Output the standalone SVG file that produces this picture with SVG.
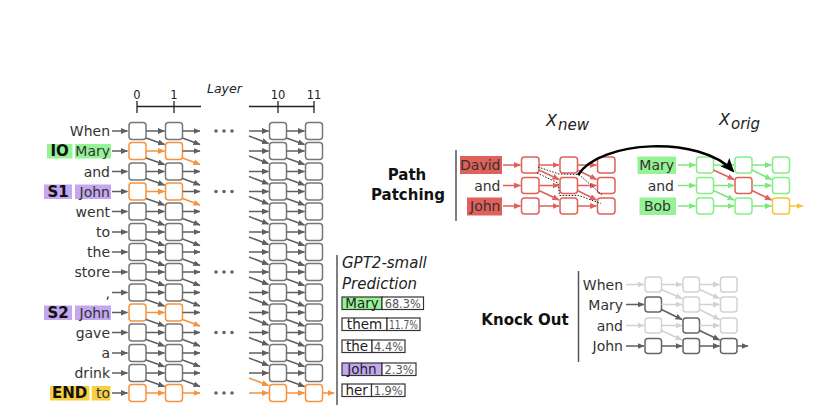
<svg xmlns="http://www.w3.org/2000/svg" width="833" height="417" viewBox="0 0 833 417">
<style>
text{font-family:"DejaVu Sans","Liberation Sans",sans-serif}
.tk{font-size:14px;fill:#333;text-anchor:end}
.tag{font-size:15px;font-weight:bold;fill:#111;text-anchor:middle}
.ax{font-size:11.5px;fill:#222;text-anchor:middle}
.bx{fill:#fff;stroke:#777;stroke-width:1.5}
.bo{fill:#fff;stroke:#f5923e;stroke-width:1.5}
.bR{fill:#fff;stroke:#e0605a;stroke-width:1.5}
.bG{fill:#fff;stroke:#86ee86;stroke-width:1.5}
.bY{fill:#fff;stroke:#f7c33d;stroke-width:1.5}
.bL{fill:#fff;stroke:#d2d2d2;stroke-width:1.5}
.bD{fill:#fff;stroke:#666;stroke-width:1.5}
.g{stroke:#5f5f5f;stroke-width:1.5;marker-end:url(#mg)}
.o{stroke:#f5923e;stroke-width:1.5;marker-end:url(#mo)}
.r{stroke:#e0605a;stroke-width:1.5;marker-end:url(#mr)}
.gr{stroke:#7ce87c;stroke-width:1.5;marker-end:url(#mgr)}
.y{stroke:#f7c33d;stroke-width:1.5;marker-end:url(#my)}
.l{stroke:#d2d2d2;stroke-width:1.5;marker-end:url(#ml)}
.hG{fill:#95f395}
.hP{fill:#c4a7f0}
.hY{fill:#f6d043}
.hR{fill:#e0605a}
.pb{stroke:#333;stroke-width:1.2}
.pw{font-size:13.5px;fill:#222;text-anchor:middle}
.pp{font-size:11.5px;fill:#555;text-anchor:middle}
.hd{font-size:15px;font-weight:bold;fill:#111;text-anchor:middle}
.it{font-style:italic;fill:#222}
.vl{stroke:#555;stroke-width:1.5}
</style>
<defs>
<marker id="mg" viewBox="0 0 7 6" refX="6.5" refY="3" markerWidth="7" markerHeight="6" markerUnits="userSpaceOnUse" orient="auto"><path d="M0,0L7,3L0,6z" fill="#5f5f5f"/></marker>
<marker id="mo" viewBox="0 0 7 6" refX="6.5" refY="3" markerWidth="7" markerHeight="6" markerUnits="userSpaceOnUse" orient="auto"><path d="M0,0L7,3L0,6z" fill="#f5923e"/></marker>
<marker id="mr" viewBox="0 0 7 6" refX="6.5" refY="3" markerWidth="7" markerHeight="6" markerUnits="userSpaceOnUse" orient="auto"><path d="M0,0L7,3L0,6z" fill="#e0605a"/></marker>
<marker id="mgr" viewBox="0 0 7 6" refX="6.5" refY="3" markerWidth="7" markerHeight="6" markerUnits="userSpaceOnUse" orient="auto"><path d="M0,0L7,3L0,6z" fill="#7ce87c"/></marker>
<marker id="my" viewBox="0 0 7 6" refX="6.5" refY="3" markerWidth="7" markerHeight="6" markerUnits="userSpaceOnUse" orient="auto"><path d="M0,0L7,3L0,6z" fill="#f7c33d"/></marker>
<marker id="ml" viewBox="0 0 7 6" refX="6.5" refY="3" markerWidth="7" markerHeight="6" markerUnits="userSpaceOnUse" orient="auto"><path d="M0,0L7,3L0,6z" fill="#d2d2d2"/></marker>
<marker id="mk" viewBox="0 0 14 12" refX="12" refY="6" markerWidth="14" markerHeight="12" markerUnits="userSpaceOnUse" orient="auto"><path d="M0,0L14,6L0,12L3,6z" fill="#000"/></marker>
</defs>

<!-- axis -->
<g id="axis">
<text class="ax" x="137" y="98.5">0</text>
<text class="ax" x="174" y="98.5">1</text>
<text class="ax" x="278" y="98.5">10</text>
<text class="ax" x="314" y="98.5">11</text>
<text class="it" x="207" y="93" font-size="12.5">Layer</text>
<g stroke="#222" stroke-width="1.3">
<line x1="137" y1="106.5" x2="201" y2="106.5"/>
<line x1="249" y1="106.5" x2="314" y2="106.5"/>
<line x1="137" y1="101" x2="137" y2="113"/>
<line x1="174" y1="101" x2="174" y2="113"/>
<line x1="278" y1="101" x2="278" y2="113"/>
<line x1="314" y1="101" x2="314" y2="113"/>
</g>
</g>

<!-- main grid rows -->
<g id="row0" transform="translate(0,131)"><text class="tk" x="110" y="5">When</text><rect class="bx" x="129" y="-8.5" width="17" height="17" rx="3"/><rect class="bx" x="165.5" y="-8.5" width="17" height="17" rx="3"/><rect class="bx" x="269.5" y="-8.5" width="17" height="17" rx="3"/><rect class="bx" x="305.5" y="-8.5" width="17" height="17" rx="3"/></g>
<g id="row1" transform="translate(0,151)"><rect class="hG" x="47" y="-7" width="25.5" height="14.5"/><text class="tag" x="59.7" y="5.3">IO</text><rect class="hG" x="75" y="-7" width="36" height="14.5"/><text class="tk" x="110" y="5">Mary</text><rect class="bo" x="129" y="-8.5" width="17" height="17" rx="3"/><rect class="bo" x="165.5" y="-8.5" width="17" height="17" rx="3"/><rect class="bx" x="269.5" y="-8.5" width="17" height="17" rx="3"/><rect class="bx" x="305.5" y="-8.5" width="17" height="17" rx="3"/></g>
<g id="row2" transform="translate(0,171.5)"><text class="tk" x="110" y="5">and</text><rect class="bx" x="129" y="-8.5" width="17" height="17" rx="3"/><rect class="bx" x="165.5" y="-8.5" width="17" height="17" rx="3"/><rect class="bx" x="269.5" y="-8.5" width="17" height="17" rx="3"/><rect class="bx" x="305.5" y="-8.5" width="17" height="17" rx="3"/></g>
<g id="row3" transform="translate(0,191.5)"><rect class="hP" x="44" y="-7" width="28" height="14.5"/><text class="tag" x="58" y="5.3">S1</text><rect class="hP" x="75" y="-7" width="36" height="14.5"/><text class="tk" x="110" y="5">John</text><rect class="bo" x="129" y="-8.5" width="17" height="17" rx="3"/><rect class="bo" x="165.5" y="-8.5" width="17" height="17" rx="3"/><rect class="bx" x="269.5" y="-8.5" width="17" height="17" rx="3"/><rect class="bx" x="305.5" y="-8.5" width="17" height="17" rx="3"/></g>
<g id="row4" transform="translate(0,211.5)"><text class="tk" x="110" y="5">went</text><rect class="bx" x="129" y="-8.5" width="17" height="17" rx="3"/><rect class="bx" x="165.5" y="-8.5" width="17" height="17" rx="3"/><rect class="bx" x="269.5" y="-8.5" width="17" height="17" rx="3"/><rect class="bx" x="305.5" y="-8.5" width="17" height="17" rx="3"/></g>
<g id="row5" transform="translate(0,232)"><text class="tk" x="110" y="5">to</text><rect class="bx" x="129" y="-8.5" width="17" height="17" rx="3"/><rect class="bx" x="165.5" y="-8.5" width="17" height="17" rx="3"/><rect class="bx" x="269.5" y="-8.5" width="17" height="17" rx="3"/><rect class="bx" x="305.5" y="-8.5" width="17" height="17" rx="3"/></g>
<g id="row6" transform="translate(0,252)"><text class="tk" x="110" y="5">the</text><rect class="bx" x="129" y="-8.5" width="17" height="17" rx="3"/><rect class="bx" x="165.5" y="-8.5" width="17" height="17" rx="3"/><rect class="bx" x="269.5" y="-8.5" width="17" height="17" rx="3"/><rect class="bx" x="305.5" y="-8.5" width="17" height="17" rx="3"/></g>
<g id="row7" transform="translate(0,272)"><text class="tk" x="110" y="5">store</text><rect class="bx" x="129" y="-8.5" width="17" height="17" rx="3"/><rect class="bx" x="165.5" y="-8.5" width="17" height="17" rx="3"/><rect class="bx" x="269.5" y="-8.5" width="17" height="17" rx="3"/><rect class="bx" x="305.5" y="-8.5" width="17" height="17" rx="3"/></g>
<g id="row8" transform="translate(0,292.5)"><text class="tk" x="110" y="5">,</text><rect class="bx" x="129" y="-8.5" width="17" height="17" rx="3"/><rect class="bx" x="165.5" y="-8.5" width="17" height="17" rx="3"/><rect class="bx" x="269.5" y="-8.5" width="17" height="17" rx="3"/><rect class="bx" x="305.5" y="-8.5" width="17" height="17" rx="3"/></g>
<g id="row9" transform="translate(0,312.5)"><rect class="hP" x="44" y="-7" width="28" height="14.5"/><text class="tag" x="58" y="5.3">S2</text><rect class="hP" x="75" y="-7" width="36" height="14.5"/><text class="tk" x="110" y="5">John</text><rect class="bo" x="129" y="-8.5" width="17" height="17" rx="3"/><rect class="bo" x="165.5" y="-8.5" width="17" height="17" rx="3"/><rect class="bx" x="269.5" y="-8.5" width="17" height="17" rx="3"/><rect class="bx" x="305.5" y="-8.5" width="17" height="17" rx="3"/></g>
<g id="row10" transform="translate(0,332.5)"><text class="tk" x="110" y="5">gave</text><rect class="bx" x="129" y="-8.5" width="17" height="17" rx="3"/><rect class="bx" x="165.5" y="-8.5" width="17" height="17" rx="3"/><rect class="bx" x="269.5" y="-8.5" width="17" height="17" rx="3"/><rect class="bx" x="305.5" y="-8.5" width="17" height="17" rx="3"/></g>
<g id="row11" transform="translate(0,353)"><text class="tk" x="110" y="5">a</text><rect class="bx" x="129" y="-8.5" width="17" height="17" rx="3"/><rect class="bx" x="165.5" y="-8.5" width="17" height="17" rx="3"/><rect class="bx" x="269.5" y="-8.5" width="17" height="17" rx="3"/><rect class="bx" x="305.5" y="-8.5" width="17" height="17" rx="3"/></g>
<g id="row12" transform="translate(0,373)"><text class="tk" x="110" y="5">drink</text><rect class="bx" x="129" y="-8.5" width="17" height="17" rx="3"/><rect class="bx" x="165.5" y="-8.5" width="17" height="17" rx="3"/><rect class="bx" x="269.5" y="-8.5" width="17" height="17" rx="3"/><rect class="bx" x="305.5" y="-8.5" width="17" height="17" rx="3"/></g>
<g id="row13" transform="translate(0,393)"><rect class="hY" x="50" y="-7" width="39.5" height="14.5"/><text class="tag" x="69.7" y="5.3">END</text><rect class="hY" x="91.7" y="-7" width="18.8" height="14.5"/><text class="tk" x="110" y="5">to</text><rect class="bo" x="129" y="-8.5" width="17" height="17" rx="3"/><rect class="bo" x="165.5" y="-8.5" width="17" height="17" rx="3"/><rect class="bo" x="269.5" y="-8.5" width="17" height="17" rx="3"/><rect class="bo" x="305.5" y="-8.5" width="17" height="17" rx="3"/></g>

<g id="ellipses" fill="#666">
<circle cx="216" cy="131" r="1.8"/><circle cx="224" cy="131" r="1.8"/><circle cx="232" cy="131" r="1.8"/>
<circle cx="216" cy="191.5" r="1.8"/><circle cx="224" cy="191.5" r="1.8"/><circle cx="232" cy="191.5" r="1.8"/>
<circle cx="216" cy="272" r="1.8"/><circle cx="224" cy="272" r="1.8"/><circle cx="232" cy="272" r="1.8"/>
<circle cx="216" cy="332.5" r="1.8"/><circle cx="224" cy="332.5" r="1.8"/><circle cx="232" cy="332.5" r="1.8"/>
<circle cx="216" cy="393" r="1.8"/><circle cx="224" cy="393" r="1.8"/><circle cx="232" cy="393" r="1.8"/>
</g>

<!-- main grid connectors -->
<g id="connectors-main">
<g transform="translate(0,131)"><line class="g" x1="112" y1="0" x2="127.5" y2="0"/><line class="g" x1="146" y1="0" x2="164.5" y2="0"/><line class="g" x1="182.5" y1="0" x2="200" y2="0"/><line class="g" x1="249" y1="0" x2="268.5" y2="0"/><line class="g" x1="286.5" y1="0" x2="304.5" y2="0"/><line class="g" x1="146" y1="7" x2="164.5" y2="13.5"/><line class="g" x1="182.5" y1="7" x2="200" y2="13.5"/><line class="g" x1="249" y1="5" x2="268.5" y2="12.5"/><line class="g" x1="286.5" y1="7" x2="304.5" y2="13.5"/></g>
<g transform="translate(0,151)"><line class="g" x1="112" y1="0" x2="127.5" y2="0"/><line class="o" x1="146" y1="0" x2="164.5" y2="0"/><line class="g" x1="182.5" y1="0" x2="200" y2="0"/><line class="g" x1="249" y1="0" x2="268.5" y2="0"/><line class="g" x1="286.5" y1="0" x2="304.5" y2="0"/><line class="g" x1="146" y1="7" x2="164.5" y2="13.5"/><line class="o" x1="182.5" y1="7" x2="200" y2="13.5"/><line class="g" x1="249" y1="5" x2="268.5" y2="12.5"/><line class="g" x1="286.5" y1="7" x2="304.5" y2="13.5"/></g>
<g transform="translate(0,171.5)"><line class="g" x1="112" y1="0" x2="127.5" y2="0"/><line class="g" x1="146" y1="0" x2="164.5" y2="0"/><line class="g" x1="182.5" y1="0" x2="200" y2="0"/><line class="g" x1="249" y1="0" x2="268.5" y2="0"/><line class="g" x1="286.5" y1="0" x2="304.5" y2="0"/><line class="g" x1="146" y1="7" x2="164.5" y2="13.5"/><line class="g" x1="182.5" y1="7" x2="200" y2="13.5"/><line class="g" x1="249" y1="5" x2="268.5" y2="12.5"/><line class="g" x1="286.5" y1="7" x2="304.5" y2="13.5"/></g>
<g transform="translate(0,191.5)"><line class="g" x1="112" y1="0" x2="127.5" y2="0"/><line class="o" x1="146" y1="0" x2="164.5" y2="0"/><line class="g" x1="182.5" y1="0" x2="200" y2="0"/><line class="g" x1="249" y1="0" x2="268.5" y2="0"/><line class="g" x1="286.5" y1="0" x2="304.5" y2="0"/><line class="g" x1="146" y1="7" x2="164.5" y2="13.5"/><line class="o" x1="182.5" y1="7" x2="200" y2="13.5"/><line class="g" x1="249" y1="5" x2="268.5" y2="12.5"/><line class="g" x1="286.5" y1="7" x2="304.5" y2="13.5"/></g>
<g transform="translate(0,211.5)"><line class="g" x1="112" y1="0" x2="127.5" y2="0"/><line class="g" x1="146" y1="0" x2="164.5" y2="0"/><line class="g" x1="182.5" y1="0" x2="200" y2="0"/><line class="g" x1="249" y1="0" x2="268.5" y2="0"/><line class="g" x1="286.5" y1="0" x2="304.5" y2="0"/><line class="g" x1="146" y1="7" x2="164.5" y2="13.5"/><line class="g" x1="182.5" y1="7" x2="200" y2="13.5"/><line class="g" x1="249" y1="5" x2="268.5" y2="12.5"/><line class="g" x1="286.5" y1="7" x2="304.5" y2="13.5"/></g>
<g transform="translate(0,232)"><line class="g" x1="112" y1="0" x2="127.5" y2="0"/><line class="g" x1="146" y1="0" x2="164.5" y2="0"/><line class="g" x1="182.5" y1="0" x2="200" y2="0"/><line class="g" x1="249" y1="0" x2="268.5" y2="0"/><line class="g" x1="286.5" y1="0" x2="304.5" y2="0"/><line class="g" x1="146" y1="7" x2="164.5" y2="13.5"/><line class="g" x1="182.5" y1="7" x2="200" y2="13.5"/><line class="g" x1="249" y1="5" x2="268.5" y2="12.5"/><line class="g" x1="286.5" y1="7" x2="304.5" y2="13.5"/></g>
<g transform="translate(0,252)"><line class="g" x1="112" y1="0" x2="127.5" y2="0"/><line class="g" x1="146" y1="0" x2="164.5" y2="0"/><line class="g" x1="182.5" y1="0" x2="200" y2="0"/><line class="g" x1="249" y1="0" x2="268.5" y2="0"/><line class="g" x1="286.5" y1="0" x2="304.5" y2="0"/><line class="g" x1="146" y1="7" x2="164.5" y2="13.5"/><line class="g" x1="182.5" y1="7" x2="200" y2="13.5"/><line class="g" x1="249" y1="5" x2="268.5" y2="12.5"/><line class="g" x1="286.5" y1="7" x2="304.5" y2="13.5"/></g>
<g transform="translate(0,272)"><line class="g" x1="112" y1="0" x2="127.5" y2="0"/><line class="g" x1="146" y1="0" x2="164.5" y2="0"/><line class="g" x1="182.5" y1="0" x2="200" y2="0"/><line class="g" x1="249" y1="0" x2="268.5" y2="0"/><line class="g" x1="286.5" y1="0" x2="304.5" y2="0"/><line class="g" x1="146" y1="7" x2="164.5" y2="13.5"/><line class="g" x1="182.5" y1="7" x2="200" y2="13.5"/><line class="g" x1="249" y1="5" x2="268.5" y2="12.5"/><line class="g" x1="286.5" y1="7" x2="304.5" y2="13.5"/></g>
<g transform="translate(0,292.5)"><line class="g" x1="112" y1="0" x2="127.5" y2="0"/><line class="g" x1="146" y1="0" x2="164.5" y2="0"/><line class="g" x1="182.5" y1="0" x2="200" y2="0"/><line class="g" x1="249" y1="0" x2="268.5" y2="0"/><line class="g" x1="286.5" y1="0" x2="304.5" y2="0"/><line class="g" x1="146" y1="7" x2="164.5" y2="13.5"/><line class="g" x1="182.5" y1="7" x2="200" y2="13.5"/><line class="g" x1="249" y1="5" x2="268.5" y2="12.5"/><line class="g" x1="286.5" y1="7" x2="304.5" y2="13.5"/></g>
<g transform="translate(0,312.5)"><line class="g" x1="112" y1="0" x2="127.5" y2="0"/><line class="o" x1="146" y1="0" x2="164.5" y2="0"/><line class="g" x1="182.5" y1="0" x2="200" y2="0"/><line class="g" x1="249" y1="0" x2="268.5" y2="0"/><line class="g" x1="286.5" y1="0" x2="304.5" y2="0"/><line class="g" x1="146" y1="7" x2="164.5" y2="13.5"/><line class="o" x1="182.5" y1="7" x2="200" y2="13.5"/><line class="g" x1="249" y1="5" x2="268.5" y2="12.5"/><line class="g" x1="286.5" y1="7" x2="304.5" y2="13.5"/></g>
<g transform="translate(0,332.5)"><line class="g" x1="112" y1="0" x2="127.5" y2="0"/><line class="g" x1="146" y1="0" x2="164.5" y2="0"/><line class="g" x1="182.5" y1="0" x2="200" y2="0"/><line class="g" x1="249" y1="0" x2="268.5" y2="0"/><line class="g" x1="286.5" y1="0" x2="304.5" y2="0"/><line class="g" x1="146" y1="7" x2="164.5" y2="13.5"/><line class="g" x1="182.5" y1="7" x2="200" y2="13.5"/><line class="g" x1="249" y1="5" x2="268.5" y2="12.5"/><line class="g" x1="286.5" y1="7" x2="304.5" y2="13.5"/></g>
<g transform="translate(0,353)"><line class="g" x1="112" y1="0" x2="127.5" y2="0"/><line class="g" x1="146" y1="0" x2="164.5" y2="0"/><line class="g" x1="182.5" y1="0" x2="200" y2="0"/><line class="g" x1="249" y1="0" x2="268.5" y2="0"/><line class="g" x1="286.5" y1="0" x2="304.5" y2="0"/><line class="g" x1="146" y1="7" x2="164.5" y2="13.5"/><line class="g" x1="182.5" y1="7" x2="200" y2="13.5"/><line class="g" x1="249" y1="5" x2="268.5" y2="12.5"/><line class="g" x1="286.5" y1="7" x2="304.5" y2="13.5"/></g>
<g transform="translate(0,373)"><line class="g" x1="112" y1="0" x2="127.5" y2="0"/><line class="g" x1="146" y1="0" x2="164.5" y2="0"/><line class="g" x1="182.5" y1="0" x2="200" y2="0"/><line class="g" x1="249" y1="0" x2="268.5" y2="0"/><line class="g" x1="286.5" y1="0" x2="304.5" y2="0"/><line class="g" x1="146" y1="7" x2="164.5" y2="13.5"/><line class="g" x1="182.5" y1="7" x2="200" y2="13.5"/><line class="o" x1="249" y1="5" x2="268.5" y2="12.5"/><line class="g" x1="286.5" y1="7" x2="304.5" y2="13.5"/></g>
<g transform="translate(0,393)"><line class="g" x1="112" y1="0" x2="127.5" y2="0"/><line class="o" x1="146" y1="0" x2="164.5" y2="0"/><line class="o" x1="182.5" y1="0" x2="200" y2="0"/><line class="o" x1="249" y1="0" x2="268.5" y2="0"/><line class="o" x1="286.5" y1="0" x2="304.5" y2="0"/><line class="o" x1="322.5" y1="0" x2="334" y2="0"/></g>
</g>

<!-- prediction panel -->
<g id="prediction">
<line class="vl" x1="337" y1="255" x2="337" y2="405"/>
<text class="it" x="342" y="268" font-size="15">GPT2-small</text>
<text class="it" x="342" y="289" font-size="15">Prediction</text>
<rect class="pb hG" x="342" y="297" width="40" height="12.5"/><text class="pw" x="362" y="307.8">Mary</text>
<rect class="pb" fill="#fff" x="382" y="297" width="41.5" height="12.5"/><text class="pp" x="402.7" y="307.5" textLength="36" lengthAdjust="spacingAndGlyphs">68.3%</text>
<rect class="pb" fill="#fff" x="342" y="318" width="45" height="12.5"/><text class="pw" x="364.5" y="328.8">them</text>
<rect class="pb" fill="#fff" x="387" y="318" width="33" height="12.5"/><text class="pp" x="403.5" y="328.5" textLength="29" lengthAdjust="spacingAndGlyphs">11.7%</text>
<rect class="pb" fill="#fff" x="342" y="340" width="30" height="12.5"/><text class="pw" x="357" y="350.8">the</text>
<rect class="pb" fill="#fff" x="372" y="340" width="33" height="12.5"/><text class="pp" x="388.5" y="350.5" textLength="29" lengthAdjust="spacingAndGlyphs">4.4%</text>
<rect class="pb hP" x="342" y="363" width="40" height="12.5"/><text class="pw" x="362" y="373.8">John</text>
<rect class="pb" fill="#fff" x="382" y="363" width="34" height="12.5"/><text class="pp" x="399" y="373.5" textLength="29" lengthAdjust="spacingAndGlyphs">2.3%</text>
<rect class="pb" fill="#fff" x="342" y="384" width="29.5" height="12.5"/><text class="pw" x="356.7" y="394.8">her</text>
<rect class="pb" fill="#fff" x="371.5" y="384" width="33.5" height="12.5"/><text class="pp" x="388.2" y="394.5" textLength="29" lengthAdjust="spacingAndGlyphs">1.9%</text>
</g>

<!-- path patching -->
<g id="path-patching-label">
<text class="hd" x="407" y="180">Path</text>
<text class="hd" x="408" y="200">Patching</text>
<line class="vl" x1="456" y1="150" x2="456" y2="221"/>
</g>
<g id="xnew-label"><text class="it" x="546" y="126" font-size="16">X</text><text class="it" x="558" y="130" font-size="15">new</text></g>
<g id="xorig-label"><text class="it" x="719" y="125" font-size="16">X</text><text class="it" x="731" y="128.5" font-size="15">orig</text></g>

<g id="new-David"><rect class="hR" x="460" y="156" width="42" height="18"/><text class="tk" x="500.5" y="170">David</text></g>
<g id="new-and"><text class="tk" x="500.5" y="190.5">and</text></g>
<g id="new-John"><rect class="hR" x="467" y="197.5" width="35" height="18"/><text class="tk" x="500.5" y="211">John</text></g>
<g id="new-grid">
<rect class="bR" x="521.5" y="157" width="17.5" height="16" rx="3"/><rect class="bR" x="560" y="157" width="17.5" height="16" rx="3"/><rect class="bR" x="597.5" y="157" width="17.5" height="16" rx="3"/>
<rect class="bR" x="521.5" y="177.5" width="17.5" height="16" rx="3"/><rect class="bR" x="560" y="177.5" width="17.5" height="16" rx="3"/><rect class="bR" x="597.5" y="177.5" width="17.5" height="16" rx="3"/>
<rect class="bR" x="521.5" y="198" width="17.5" height="16" rx="3"/><rect class="bR" x="560" y="198" width="17.5" height="16" rx="3"/><rect class="bR" x="597.5" y="198" width="17.5" height="16" rx="3"/>
</g>

<g id="orig-Mary"><rect class="hG" x="637.5" y="156.5" width="38.5" height="17.5"/><text class="tk" x="674" y="170">Mary</text></g>
<g id="orig-and"><text class="tk" x="674" y="190.5">and</text></g>
<g id="orig-Bob"><rect class="hG" x="639.5" y="197.5" width="36.5" height="17.5"/><text class="tk" x="671" y="211">Bob</text></g>
<g id="orig-grid">
<rect class="bG" x="696.5" y="157" width="17" height="16" rx="3"/><rect class="bG" x="735" y="157" width="17" height="16" rx="3"/><rect class="bG" x="772.5" y="157" width="17" height="16" rx="3"/>
<rect class="bG" x="696.5" y="177.5" width="17" height="16" rx="3"/><rect class="bR" x="735" y="177.5" width="17" height="16" rx="3"/><rect class="bG" x="772.5" y="177.5" width="17" height="16" rx="3"/>
<rect class="bG" x="696.5" y="198" width="17" height="16" rx="3"/><rect class="bG" x="735" y="198" width="17" height="16" rx="3"/><rect class="bY" x="772.5" y="198" width="17" height="16" rx="3"/>
</g>

<g id="connectors-patching">
<line class="r" x1="503" y1="165" x2="520.5" y2="165"/><line class="r" x1="503" y1="185.5" x2="520.5" y2="185.5"/><line class="r" x1="503" y1="206" x2="520.5" y2="206"/>
<line class="r" x1="539" y1="165" x2="559" y2="165"/><line class="r" x1="577.5" y1="165" x2="596.5" y2="165"/>
<line class="r" x1="539" y1="185.5" x2="559" y2="185.5"/><line class="r" x1="577.5" y1="185.5" x2="596.5" y2="185.5"/>
<line class="r" x1="539" y1="206" x2="559" y2="206"/><line class="r" x1="577.5" y1="206" x2="596.5" y2="206"/>
<line class="r" x1="539" y1="170" x2="559" y2="179.5"/><line class="r" x1="577.5" y1="170" x2="596.5" y2="179.5"/>
<line class="r" x1="539" y1="190.5" x2="559" y2="200"/><line class="r" x1="577.5" y1="190.5" x2="596.5" y2="200"/>
<g fill="none" stroke="#222" stroke-width="1" stroke-dasharray="1.5 1.5">
<polyline points="538,167 559,174 579,174.5 602,195"/>
<polyline points="537,173 558,183 559.5,195.5 578.5,195.5 601,203.5"/>
</g>
<line class="gr" x1="678" y1="165" x2="695.5" y2="165"/><line class="gr" x1="678" y1="185.5" x2="695.5" y2="185.5"/><line class="gr" x1="678" y1="206" x2="695.5" y2="206"/>
<line class="gr" x1="713.5" y1="165" x2="734" y2="165"/><line class="gr" x1="752" y1="165" x2="771.5" y2="165"/>
<line class="gr" x1="713.5" y1="185.5" x2="734" y2="185.5"/><line class="gr" x1="752" y1="185.5" x2="771.5" y2="185.5"/>
<line class="gr" x1="713.5" y1="206" x2="734" y2="206"/><line class="gr" x1="752" y1="206" x2="771.5" y2="206"/>
<line class="gr" x1="752" y1="170" x2="771.5" y2="179.5"/>
<line class="gr" x1="713.5" y1="190.5" x2="734" y2="200"/>
<line class="r" x1="713.5" y1="170" x2="734" y2="179.5"/>
<line class="r" x1="752" y1="190.5" x2="771.5" y2="200"/>
<line class="y" x1="789.5" y1="206" x2="803" y2="206"/>
<path d="M578,175 C600,140 700,135 733,171" fill="none" stroke="#000" stroke-width="2.5" marker-end="url(#mk)"/>
</g>

<!-- knock out -->
<g id="knockout-label">
<text class="hd" x="525" y="325">Knock Out</text>
<line class="vl" x1="578.5" y1="271" x2="578.5" y2="362"/>
</g>
<g id="ko-When"><text class="tk" x="623" y="289.5">When</text><rect class="bL" x="645" y="277" width="16.5" height="15" rx="3"/><rect class="bL" x="683" y="277" width="16.5" height="15" rx="3"/><rect class="bL" x="720.5" y="277" width="16.5" height="15" rx="3"/></g>
<g id="ko-Mary"><text class="tk" x="623" y="309.5">Mary</text><rect class="bD" x="645" y="297" width="16.5" height="15" rx="3"/><rect class="bL" x="683" y="297" width="16.5" height="15" rx="3"/><rect class="bL" x="720.5" y="297" width="16.5" height="15" rx="3"/></g>
<g id="ko-and"><text class="tk" x="623" y="330.5">and</text><rect class="bL" x="645" y="318" width="16.5" height="15" rx="3"/><rect class="bD" x="683" y="318" width="16.5" height="15" rx="3"/><rect class="bL" x="720.5" y="318" width="16.5" height="15" rx="3"/></g>
<g id="ko-John"><text class="tk" x="623" y="351">John</text><rect class="bD" x="645" y="338.5" width="16.5" height="15" rx="3"/><rect class="bD" x="683" y="338.5" width="16.5" height="15" rx="3"/><rect class="bD" x="720.5" y="338.5" width="16.5" height="15" rx="3"/></g>

<g id="connectors-knockout">
<line class="l" x1="626" y1="284.5" x2="644" y2="284.5"/><line class="l" x1="661.5" y1="284.5" x2="682" y2="284.5"/><line class="l" x1="699.5" y1="284.5" x2="719.5" y2="284.5"/>
<line class="l" x1="661.5" y1="289.5" x2="682" y2="298.5"/><line class="l" x1="699.5" y1="289.5" x2="719.5" y2="298.5"/>
<line class="l" x1="661.5" y1="304.5" x2="682" y2="304.5"/><line class="l" x1="699.5" y1="304.5" x2="719.5" y2="304.5"/>
<line class="l" x1="699.5" y1="309.5" x2="719.5" y2="319.5"/>
<line class="l" x1="626" y1="325.5" x2="644" y2="325.5"/><line class="l" x1="661.5" y1="325.5" x2="682" y2="325.5"/><line class="l" x1="699.5" y1="325.5" x2="719.5" y2="325.5"/>
<line class="l" x1="661.5" y1="330.5" x2="682" y2="340"/>
<line class="g" x1="626" y1="304.5" x2="644" y2="304.5"/>
<line class="g" x1="661.5" y1="309.5" x2="682" y2="319.5"/>
<line class="g" x1="699.5" y1="330.5" x2="719.5" y2="340"/>
<line class="g" x1="626" y1="346" x2="644" y2="346"/><line class="g" x1="661.5" y1="346" x2="682" y2="346"/><line class="g" x1="699.5" y1="346" x2="719.5" y2="346"/><line class="g" x1="737" y1="346" x2="748" y2="346"/>
</g>
</svg>
